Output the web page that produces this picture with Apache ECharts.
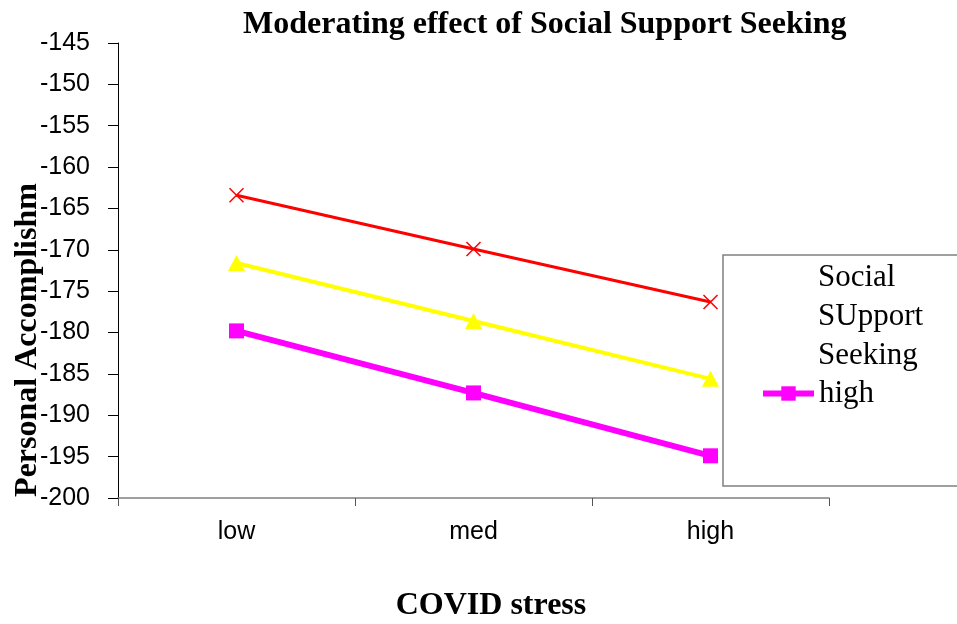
<!DOCTYPE html>
<html>
<head>
<meta charset="utf-8">
<script src="https://cdn.jsdelivr.net/npm/echarts@6/dist/echarts.min.js"></script>
<style>
html,body{margin:0;padding:0;background:#fff;}
#c{width:957px;height:624px;}
</style>
</head>
<body>
<div id="c"></div>
<script>
const categories = ['low', 'med', 'high'];
const seriesNames = ['low', 'med', 'high'];
const redValues = [-163.4, -169.9, -176.3];
const yellowValues = [-171.6, -178.6, -185.6];
const magentaValues = [-179.8, -187.3, -194.9];
const yMin = -200, yMax = -145, yStep = 5;
const legendTitleLines = ['Social', 'SUpport', 'Seeking'];

const serif = '"Liberation Serif","Times New Roman",serif';
const sans = '"Liberation Sans",Arial,sans-serif';

const chart = echarts.init(document.getElementById('c'), null, {renderer: 'canvas'});
chart.setOption({
  backgroundColor: '#ffffff',
  animation: false,
  title: {
    text: 'Moderating effect of Social Support Seeking',
    left: 243, top: 9, padding: 0,
    textStyle: {fontFamily: serif, fontWeight: 'bold', fontSize: 32, color: '#000'}
  },
  grid: {left: 118, right: 128, top: 43, bottom: 126, containLabel: false},
  xAxis: {
    type: 'category', data: categories, boundaryGap: true,
    axisLine: {lineStyle: {color: '#808080', width: 1.5}},
    axisTick: {show: true, length: 8, inside: false, lineStyle: {color: '#555', width: 1}},
    axisLabel: {fontFamily: sans, fontSize: 25, color: '#000', margin: 22},
    splitLine: {show: false}
  },
  yAxis: {
    type: 'value', min: yMin, max: yMax, interval: yStep,
    axisLine: {show: true, lineStyle: {color: '#000', width: 1}},
    axisTick: {show: true, length: 10, lineStyle: {color: '#000', width: 1}},
    axisLabel: {fontFamily: sans, fontSize: 25, color: '#000', margin: 28},
    splitLine: {show: false}
  },
  legend: {
    data: ['high'],
    left: 760, top: 378, padding: 0,
    itemWidth: 51, itemHeight: 18, itemGap: 4,
    lineStyle: {width: 6},
    textStyle: {fontFamily: serif, fontSize: 31, color: '#000', padding: [2,0,0,0]},
    selectedMode: false
  },
  graphic: [
    {type: 'rect', shape: {x: 723, y: 255, width: 260, height: 231},
     style: {fill: 'rgba(255,255,255,0)', stroke: '#808080', lineWidth: 1.5}, z: 1},
    {type: 'text', x: 818, y: 258,
     style: {text: legendTitleLines.join('\n'), font: '31px ' + serif, fill: '#000', lineHeight: 39, verticalAlign: 'top'}},
    {type: 'text', x: 28, y: 340, rotation: Math.PI / 2,
     style: {text: 'Personal Accomplishm', font: 'bold 32px ' + serif, fill: '#000', align: 'center', verticalAlign: 'middle'}},
    {type: 'text', x: 491, y: 606,
     style: {text: 'COVID stress', font: 'bold 32px ' + serif, fill: '#000', align: 'center', verticalAlign: 'middle'}}
  ],
  series: [
    {name: seriesNames[0], type: 'line', data: redValues,
     symbol: 'path://M0,0L10,10M10,0L0,10', symbolSize: 14,
     lineStyle: {color: '#ff0000', width: 3},
     itemStyle: {color: '#ff0000', borderColor: '#ff0000', borderWidth: 1.5}},
    {name: seriesNames[1], type: 'line', data: yellowValues,
     symbol: 'triangle', symbolSize: [17, 16],
     lineStyle: {color: '#ffff00', width: 4},
     itemStyle: {color: '#ffff00', borderWidth: 0}},
    {name: seriesNames[2], type: 'line', data: magentaValues,
     symbol: 'rect', symbolSize: 15,
     lineStyle: {color: '#ff00ff', width: 6},
     itemStyle: {color: '#ff00ff', borderWidth: 0}}
  ]
});
</script>
</body>
</html>
